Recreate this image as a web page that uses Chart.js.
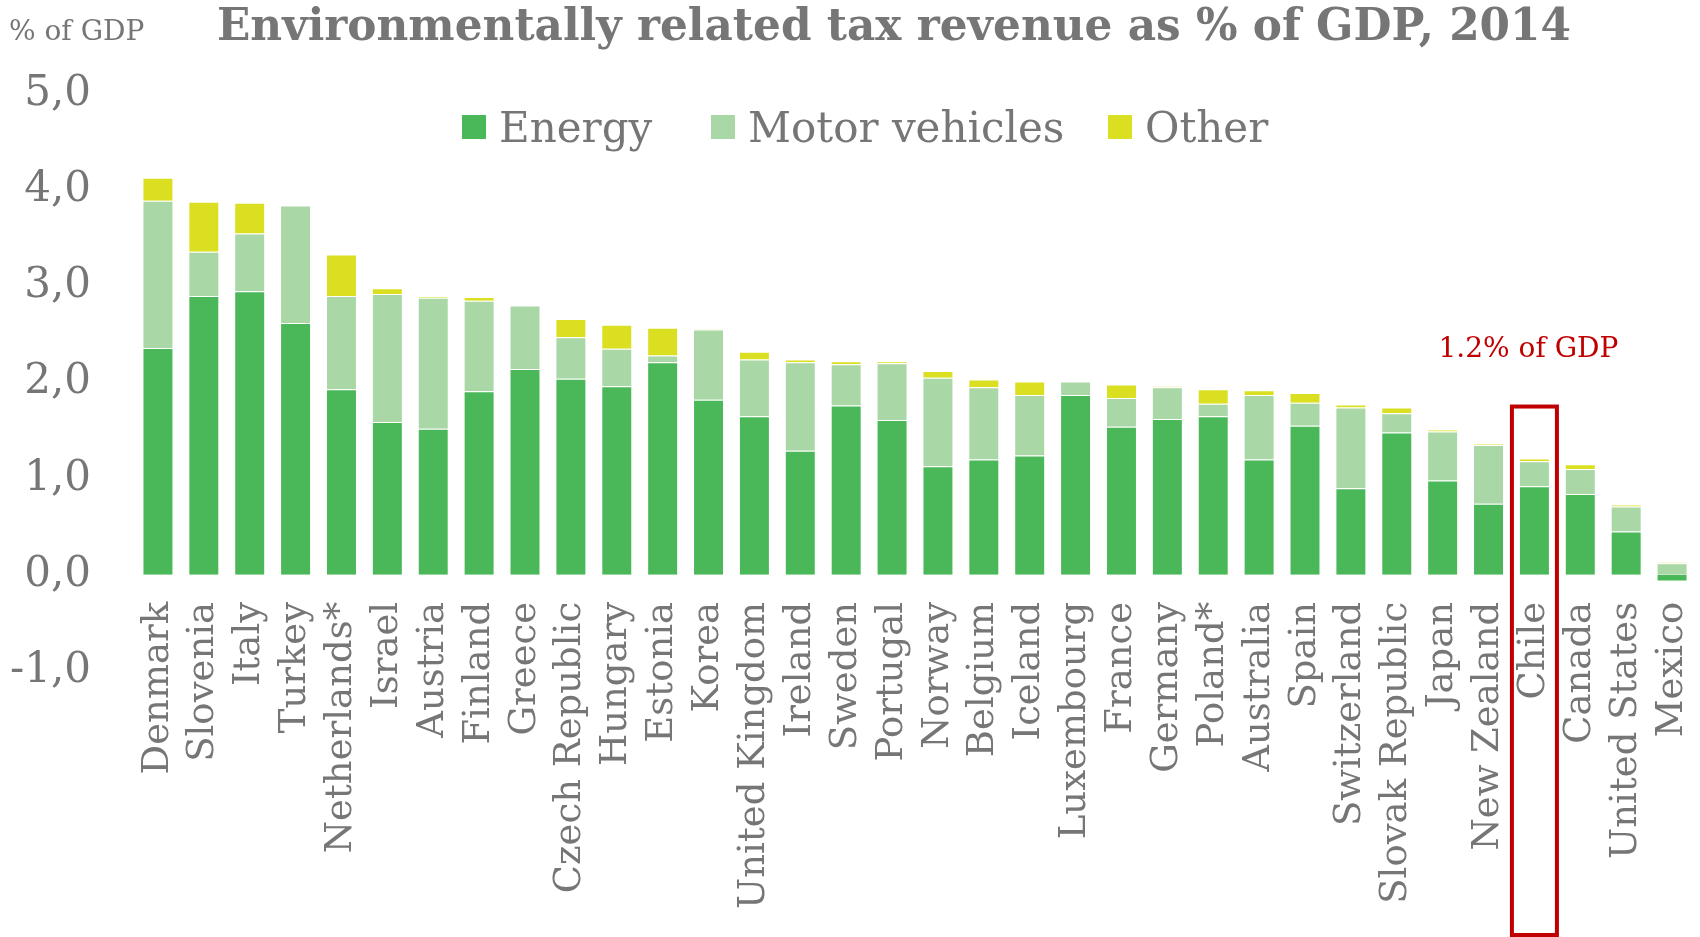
<!DOCTYPE html>
<html>
<head>
<meta charset="utf-8">
<script src="https://cdn.jsdelivr.net/npm/chart.js@4"></script>
<style>
  html, body { margin: 0; padding: 0; background: #fff; }
  #wrap { width: 1700px; height: 937px; position: relative; }
</style>
</head>
<body>
<div id="wrap"><canvas id="taxChart"></canvas></div>
<script>
const countries = [
  'Denmark', 'Slovenia', 'Italy', 'Turkey', 'Netherlands*', 'Israel', 'Austria',
  'Finland', 'Greece', 'Czech Republic', 'Hungary', 'Estonia', 'Korea',
  'United Kingdom', 'Ireland', 'Sweden', 'Portugal', 'Norway', 'Belgium',
  'Iceland', 'Luxembourg', 'France', 'Germany', 'Poland*', 'Australia', 'Spain',
  'Switzerland', 'Slovak Republic', 'Japan', 'New Zealand', 'Chile', 'Canada',
  'United States', 'Mexico',
];

const energy = [
  2.36, 2.90, 2.95, 2.62, 1.93, 1.59, 1.52, 1.91, 2.14, 2.04, 1.96, 2.21, 1.82,
  1.65, 1.29, 1.76, 1.61, 1.13, 1.20, 1.24, 1.87, 1.54, 1.62, 1.65, 1.20, 1.55,
  0.90, 1.48, 0.98, 0.74, 0.92, 0.84, 0.45, -0.07,
];
const motorVehicles = [
  1.53, 0.46, 0.60, 1.22, 0.97, 1.33, 1.36, 0.94, 0.66, 0.43, 0.39, 0.07, 0.73,
  0.59, 0.92, 0.43, 0.59, 0.92, 0.75, 0.63, 0.14, 0.30, 0.33, 0.13, 0.67, 0.24,
  0.84, 0.20, 0.51, 0.61, 0.26, 0.26, 0.26, 0.12,
];
const other = [
  0.24, 0.52, 0.32, 0, 0.43, 0.06, 0.02, 0.04, 0, 0.19, 0.25, 0.29, 0.01,
  0.08, 0.03, 0.03, 0.02, 0.07, 0.08, 0.14, 0, 0.14, 0.01, 0.15, 0.05, 0.10,
  0.03, 0.06, 0.02, 0.01, 0.03, 0.05, 0.02, 0.01,
];

const yTicks = [-1, 0, 1, 2, 3, 4, 5];
const highlight = 'Chile';
const highlightNote = '1.2% of GDP';
const highlightTop = 1.75;

const grey = '#767676';
const serif = "'DejaVu Serif', Georgia, serif";
const legendX = [462, 711, 1108];

// title, unit label, custom legend and the Chile box
const decorations = {
  id: 'decorations',
  afterDraw(chart) {
    const { ctx, scales } = chart;
    ctx.save();

    ctx.fillStyle = grey;
    ctx.textBaseline = 'alphabetic';
    ctx.textAlign = 'left';
    ctx.font = `28px ${serif}`;
    ctx.fillText('% of GDP', 9, 40);

    ctx.textAlign = 'center';
    ctx.font = `bold 45px ${serif}`;
    ctx.fillText('Environmentally related tax revenue as % of GDP, 2014', 894, 40, 1354);

    // legend
    ctx.textAlign = 'left';
    ctx.font = `42px ${serif}`;
    chart.data.datasets.forEach((ds, i) => {
      const x = legendX[i];
      ctx.fillStyle = ds.backgroundColor;
      ctx.fillRect(x, 115, 24, 24);
      ctx.fillStyle = grey;
      ctx.fillText(ds.label, x + 37, 142);
    });

    // highlight box
    const idx = chart.data.labels.indexOf(highlight);
    const cx = scales.x.getPixelForValue(idx);
    const top = scales.y.getPixelForValue(highlightTop);
    ctx.strokeStyle = '#C00000';
    ctx.lineWidth = 4;
    ctx.strokeRect(cx - 22.5, top, 45, chart.height - 2 - top);

    ctx.fillStyle = '#C00000';
    ctx.textAlign = 'center';
    ctx.font = `28px ${serif}`;
    ctx.fillText(highlightNote, cx - 6, top - 50);

    ctx.restore();
  },
};

const chartData = {
  labels: countries,
  datasets: [
    { label: 'Energy', data: energy, backgroundColor: '#4AB858' },
    { label: 'Motor vehicles', data: motorVehicles, backgroundColor: '#A9D7A5' },
    { label: 'Other', data: other, backgroundColor: '#DAE021' },
  ].map((ds) => ({
    ...ds,
    borderColor: 'rgba(255,255,255,0.35)',
    borderWidth: 1,
    barPercentage: 0.675,
    categoryPercentage: 1,
  })),
};

const chartOptions = {
  responsive: true,
  maintainAspectRatio: false,
  animation: false,
  layout: { padding: { top: 94, bottom: 266, left: 0, right: 5 } },
  plugins: {
    legend: { display: false },
    tooltip: { enabled: false },
  },
  scales: {
    x: {
      stacked: true,
      position: { y: 0 },
      grid: { display: false, drawTicks: false },
      border: { display: false },
      ticks: {
        autoSkip: false,
        maxRotation: 90,
        minRotation: 90,
        padding: 27,
        color: grey,
        font: { family: serif, size: 37 },
      },
      afterFit: (scale) => {
        scale.paddingLeft = 0;
        scale.paddingRight = 0;
      },
    },
    y: {
      stacked: true,
      min: yTicks[0],
      max: yTicks[yTicks.length - 1],
      grid: { display: false, drawTicks: false },
      border: { display: false },
      afterBuildTicks: (scale) => {
        scale.ticks = yTicks.map((v) => ({ value: v }));
      },
      ticks: {
        padding: 44,
        color: grey,
        font: { family: serif, size: 42 },
        callback: (value) => value.toFixed(1).replace('.', ','),
      },
      afterFit: (scale) => {
        scale.width = 135;
      },
    },
  },
};

new Chart(document.getElementById('taxChart'), {
  type: 'bar',
  data: chartData,
  options: chartOptions,
  plugins: [decorations],
});
</script>
</body>
</html>
